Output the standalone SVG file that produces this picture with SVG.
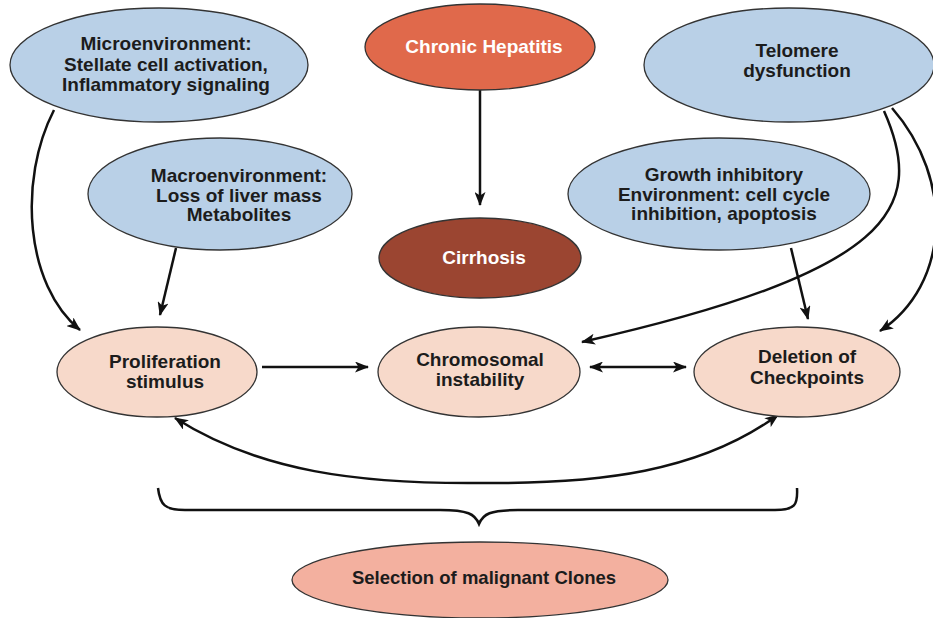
<svg xmlns="http://www.w3.org/2000/svg" width="933" height="618" viewBox="0 0 933 618">
<style>
.blue{fill:#b9d0e7;stroke:#333;stroke-width:1.3}
.peach{fill:#f7d9ca;stroke:#333;stroke-width:1.3}
.t{font-family:"Liberation Sans",Arial,sans-serif;font-weight:bold;font-size:19px;fill:#1c1c1c;text-anchor:middle}
.w{fill:#ffffff}
.c{fill:none;stroke:#111;stroke-width:2.5}
</style>
<defs>
<marker id="ah" viewBox="0 0 14 11" refX="13" refY="5.5" markerWidth="14" markerHeight="11" markerUnits="userSpaceOnUse" orient="auto-start-reverse">
<path d="M0,0 L14,5.5 L0,11 L3.5,5.5 z" fill="#111"/>
</marker>
</defs>
<rect width="933" height="618" fill="#ffffff"/>
<g id="connectors">
<path class="c" d="M480,90 L480,205" marker-end="url(#ah)"/>
<path class="c" d="M54,110 C18,180 25,285 80,330" marker-end="url(#ah)"/>
<path class="c" d="M176,248 L160,315" marker-end="url(#ah)"/>
<path class="c" d="M791,248 L808,319" marker-end="url(#ah)"/>
<path class="c" d="M884,111 C928,210 890,272 582,342" marker-end="url(#ah)"/>
<path class="c" d="M892,108 C955,180 950,285 880,331" marker-end="url(#ah)"/>
<path class="c" d="M262,367 L368,367" marker-end="url(#ah)"/>
<path class="c" d="M590,367 L686,367" marker-start="url(#ah)" marker-end="url(#ah)"/>
<path class="c" d="M175,418 C260,472 360,484 480,483 C600,484 700,472 778,415" marker-start="url(#ah)" marker-end="url(#ah)"/>
<path class="c" d="M158,488 C160,505 165,510 185,510 L440,510 C468,510 475,514 479,524 C483,514 490,510 518,510 L775,510 C795,510 798,505 797,488"/>
</g>
<g id="microenvironment">
<ellipse class="blue" cx="159" cy="65" rx="149" ry="57"/>
<text class="t" x="166" y="50">Microenvironment:</text>
<text class="t" x="166" y="71">Stellate cell activation,</text>
<text class="t" x="166" y="91">Inflammatory signaling</text>
</g>
<g id="chronic-hepatitis">
<ellipse cx="480" cy="47" rx="115" ry="43" fill="#e0694b" stroke="#333" stroke-width="1.3"/>
<text class="t w" x="484" y="53">Chronic Hepatitis</text>
</g>
<g id="telomere">
<ellipse class="blue" cx="789" cy="65" rx="145" ry="57"/>
<text class="t" x="797" y="57">Telomere</text>
<text class="t" x="797" y="77">dysfunction</text>
</g>
<g id="macroenvironment">
<ellipse class="blue" cx="220" cy="194" rx="132" ry="56"/>
<text class="t" x="239" y="182">Macroenvironment:</text>
<text class="t" x="239" y="202">Loss of liver mass</text>
<text class="t" x="239" y="221">Metabolites</text>
</g>
<g id="cirrhosis">
<ellipse cx="480" cy="258" rx="101" ry="40" fill="#9b4531" stroke="#333" stroke-width="1.3"/>
<text class="t w" x="484" y="264">Cirrhosis</text>
</g>
<g id="growth-inhibitory">
<ellipse class="blue" cx="719" cy="194" rx="151" ry="56"/>
<text class="t" x="724" y="181">Growth inhibitory</text>
<text class="t" x="724" y="201">Environment: cell cycle</text>
<text class="t" x="724" y="220">inhibition, apoptosis</text>
</g>
<g id="proliferation">
<ellipse class="peach" cx="157" cy="372" rx="100" ry="45"/>
<text class="t" x="165" y="368">Proliferation</text>
<text class="t" x="165" y="388">stimulus</text>
</g>
<g id="chromosomal">
<ellipse class="peach" cx="479" cy="372" rx="101" ry="45"/>
<text class="t" x="480" y="366">Chromosomal</text>
<text class="t" x="480" y="386">instability</text>
</g>
<g id="deletion">
<ellipse class="peach" cx="797" cy="372" rx="103" ry="45"/>
<text class="t" x="807" y="363">Deletion of</text>
<text class="t" x="807" y="384">Checkpoints</text>
</g>
<g id="selection">
<ellipse cx="480" cy="580" rx="188" ry="38" fill="#f3b09f" stroke="#333" stroke-width="1.3"/>
<text class="t" x="484" y="584" style="font-size:18.5px">Selection of malignant Clones</text>
</g>
</svg>
